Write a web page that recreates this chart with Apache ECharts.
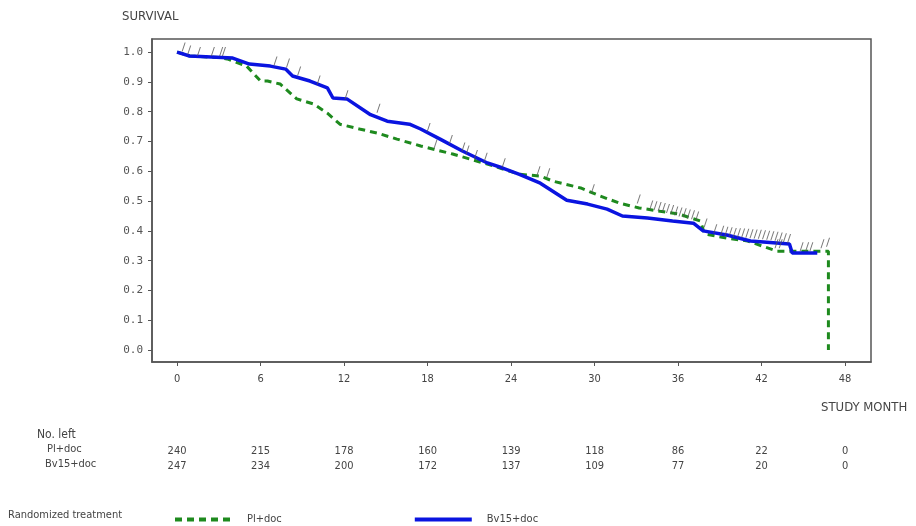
<!DOCTYPE html>
<html>
<head>
<meta charset="utf-8">
<script src="https://cdn.jsdelivr.net/npm/echarts@6/dist/echarts.min.js"></script>
<style>
  html, body { margin: 0; padding: 0; background: #fff; }
  #chart { width: 916px; height: 526px; }
</style>
</head>
<body>
<div id="chart"></div>
<script>
// tick months and numbers at risk
var months = [0, 6, 12, 18, 24, 30, 36, 42, 48];
var plLeft = [240, 215, 178, 160, 139, 118, 86, 22, 0];
var bvLeft = [247, 234, 200, 172, 137, 109, 77, 20, 0];
var yTicks = [0, 0.1, 0.2, 0.3, 0.4, 0.5, 0.6, 0.7, 0.8, 0.9, 1.0];

// KM curve, Pl+doc  [month, survival]
var plCurve = [[0,1.0],[0.9,0.987],[3.0,0.982],[3.6,0.977],[5.0,0.953],[6.0,0.903],[6.5,0.903],[7.4,0.893],
  [8.6,0.843],[9.8,0.826],[10.8,0.795],[11.7,0.758],[13.1,0.742],[14.4,0.728],[15.8,0.708],[17.5,0.685],
  [19.8,0.658],[22.3,0.624],[24.6,0.59],[26.1,0.584],[27.0,0.567],[29.0,0.544],[30.4,0.517],[31.8,0.493],
  [33.2,0.477],[34.7,0.466],[36.1,0.456],[37.6,0.433],[37.9,0.39],[39.5,0.376],[41.0,0.366],[43.1,0.332],
  [46.8,0.332],[46.8,0]];

// KM curve, Bv15+doc
var bvCurve = [[0,1.0],[0.9,0.987],[4.0,0.98],[5.2,0.96],[6.7,0.953],[7.8,0.943],[8.3,0.92],[9.55,0.903],
  [10.8,0.88],[11.2,0.846],[12.2,0.843],[13.9,0.79],[15.1,0.768],[16.7,0.758],[17.5,0.742],[18.9,0.708],
  [20.5,0.668],[22.3,0.628],[23.4,0.611],[24.6,0.59],[26.1,0.56],[28.0,0.503],[29.5,0.49],[30.9,0.473],
  [32.0,0.45],[33.8,0.443],[35.6,0.433],[37.1,0.426],[37.8,0.40],[39.5,0.386],[41.2,0.366],[44.0,0.356],
  [44.2,0.326],[46.0,0.326]];

// censoring marks
var censored = [[0.4,1.0],[0.8,0.99],[1.5,0.985],[2.5,0.985],[3.1,0.985],[3.3,0.985],
  [7.0,0.953],[7.9,0.947],[8.7,0.92],[10.1,0.89],[12.1,0.84],[14.4,0.795],[18.0,0.73],[18.5,0.675],
  [19.6,0.69],[20.5,0.665],[20.8,0.655],[21.4,0.64],[22.1,0.63],[23.4,0.612],[25.9,0.585],[26.6,0.578],
  [29.8,0.525],[33.1,0.49],
  [34.0,0.47],[34.3,0.468],[34.6,0.465],[34.9,0.462],[35.2,0.458],[35.5,0.455],[35.8,0.45],[36.1,0.447],
  [36.4,0.444],[36.7,0.44],[37.0,0.437],[37.3,0.433],[37.9,0.41],
  [38.6,0.39],[39.1,0.385],[39.4,0.382],[39.7,0.38],[40.0,0.378],[40.3,0.377],[40.6,0.376],[40.9,0.375],
  [41.2,0.374],[41.5,0.373],[41.8,0.372],[42.1,0.37],[42.4,0.369],[42.7,0.367],[43.0,0.365],[43.3,0.363],
  [43.6,0.36],[43.9,0.358],
  [43.0,0.34],[43.3,0.34],[44.8,0.33],[45.2,0.33],[45.5,0.33],[46.3,0.34],[46.7,0.345]];

var narrow = '"Liberation Sans Narrow", "DejaVu Sans Condensed", sans-serif';
var txt = '#444';

function riskAxis(counts, offset) {
    return {
        type: 'value', min: -1.8, max: 49.86, position: 'bottom', offset: offset,
        axisLine: { show: false, onZero: false }, axisTick: { show: false }, splitLine: { show: false },
        axisLabel: {
            customValues: months, margin: 0, color: txt, fontFamily: narrow, fontSize: 11,
            formatter: function (v) { return String(counts[months.indexOf(v)]); }
        }
    };
}

var chart = echarts.init(document.getElementById('chart'));
chart.setOption({
    animation: false,
    grid: { left: 152, top: 39, right: 45, bottom: 164, show: true, borderColor: '#555', borderWidth: 1.5 },
    xAxis: [{
        type: 'value', min: -1.8, max: 49.86,
        axisLine: { show: true, onZero: false, lineStyle: { color: '#555', width: 1.5 } },
        axisTick: { show: true, customValues: months, length: 4, lineStyle: { color: '#555' } },
        axisLabel: { customValues: months, margin: 12, color: txt, fontFamily: narrow, fontSize: 11 },
        splitLine: { show: false }
    }, riskAxis(plLeft, 84), riskAxis(bvLeft, 99)],
    yAxis: {
        type: 'value', min: -0.04, max: 1.044,
        axisLine: { show: true, onZero: false, lineStyle: { color: '#555', width: 1.5 } },
        axisTick: { show: true, customValues: yTicks, length: 4, lineStyle: { color: '#555' } },
        axisLabel: {
            customValues: yTicks, margin: 9, color: '#555', fontFamily: '"DejaVu Sans Mono", monospace', fontSize: 11,
            formatter: function (v) { return v.toFixed(1); }
        },
        splitLine: { show: false }
    },
    legend: {
        data: ['Pl+doc', 'Bv15+doc'],
        left: 168, top: 509, itemWidth: 57, itemHeight: 10, itemGap: 131,
        itemStyle: { opacity: 0 },
        lineStyle: { width: 4 },
        textStyle: { color: txt, fontFamily: narrow, fontSize: 11, padding: [0, 0, 0, 10] }
    },
    graphic: [
        { type: 'text', left: 122, top: 10, style: { text: 'SURVIVAL', fill: txt, font: '13px ' + narrow } },
        { type: 'text', left: 821, top: 401, style: { text: 'STUDY MONTH', fill: txt, font: '13px ' + narrow } },
        { type: 'text', left: 37, top: 429, style: { text: 'No. left', fill: txt, font: '12px ' + narrow } },
        { type: 'text', left: 47, top: 444, style: { text: 'Pl+doc', fill: txt, font: '11px ' + narrow } },
        { type: 'text', left: 45, top: 459, style: { text: 'Bv15+doc', fill: txt, font: '11px ' + narrow } },
        { type: 'text', left: 8, top: 510, style: { text: 'Randomized treatment', fill: txt, font: '11px ' + narrow } }
    ],
    series: [{
        name: 'Pl+doc', type: 'line', data: plCurve, symbol: 'none', z: 3,
        itemStyle: { color: '#1e8a1e' },
        lineStyle: { color: '#1e8a1e', width: 3, type: [7, 5] }
    }, {
        name: 'Bv15+doc', type: 'line', data: bvCurve, symbol: 'none', z: 4,
        itemStyle: { color: '#0a14e0' },
        lineStyle: { color: '#0a14e0', width: 3.5 }
    }, {
        name: 'censored', type: 'scatter', data: censored, z: 5,
        symbol: 'path://M0,10L3,0L4,0L1,10Z', symbolSize: [4, 9], symbolOffset: [1, -5],
        itemStyle: { color: '#555' }
    }]
});
</script>
</body>
</html>
